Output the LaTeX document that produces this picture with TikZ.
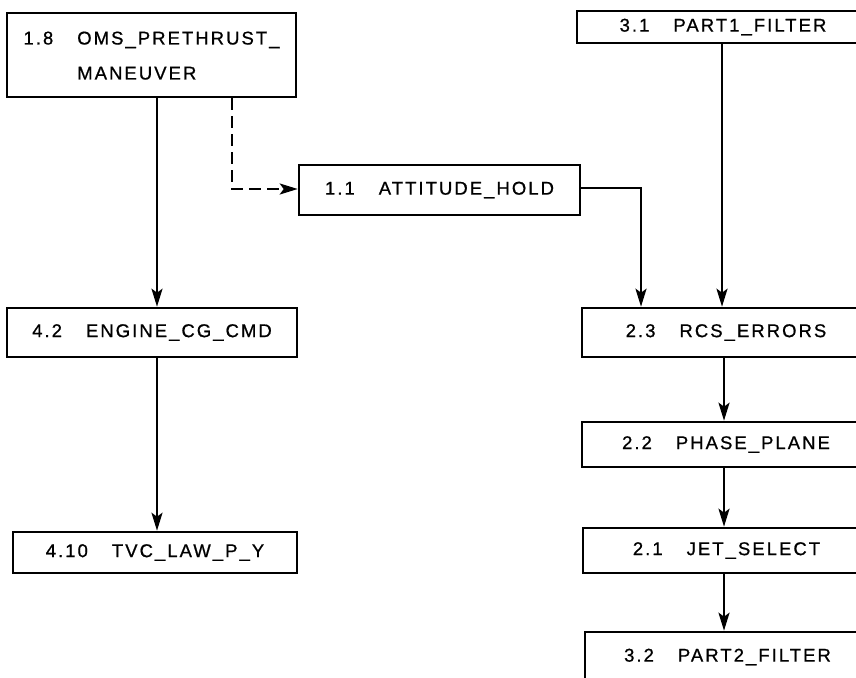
\documentclass[tikz,border=0pt]{standalone}
\usepackage{fontspec}
\setmainfont{Liberation Sans}[LetterSpace=11,FakeBold=0.8]
\usetikzlibrary{arrows.meta}
\tikzset{
  box/.style={draw, line width=2.6pt, rectangle, inner sep=0pt, align=center, font=\fontsize{18.5}{35}\selectfont},
  arr/.style={line width=2.4pt, -{Stealth[length=18pt,width=11pt,inset=4pt]}},
  dashedarr/.style={arr, dash pattern=on 12pt off 6pt},
}
\newcommand{\gapx}{\hspace{24pt}}
\begin{document}
\begin{tikzpicture}[x=1pt,y=-1pt]
\useasboundingbox (0,0) rectangle (856,677);
\clip (0,0) rectangle (856,677);
% left column
\node[box, minimum width=289pt, minimum height=84pt] (n18) at (151.5,55)
  {\begin{tabular}{@{}l@{\gapx}l@{}}1.8 & OMS\_PRETHRUST\_\\ & MANEUVER\end{tabular}};
\node[box, minimum width=290pt, minimum height=49pt] (n42) at (152,332.5) {4.2\gapx ENGINE\_CG\_CMD};
\node[box, minimum width=284pt, minimum height=41pt] (n410) at (155,552.5) {4.10\gapx TVC\_LAW\_P\_Y};
% middle
\node[box, minimum width=281pt, minimum height=50pt] (n11) at (439.5,190) {1.1\gapx ATTITUDE\_HOLD};
% right column
\node[box, minimum width=292pt, minimum height=32pt] (n31) at (723,27) {3.1\gapx PART1\_FILTER};
\node[box, minimum width=288pt, minimum height=49pt] (n23) at (726,332.5) {2.3\gapx RCS\_ERRORS};
\node[box, minimum width=288pt, minimum height=45pt] (n22) at (726,444.5) {2.2\gapx PHASE\_PLANE};
\node[box, minimum width=287pt, minimum height=45pt] (n21) at (726.5,550.5) {2.1\gapx JET\_SELECT};
\node[box, minimum width=285pt, minimum height=50pt] (n32) at (727.5,657) {3.2\gapx PART2\_FILTER};
% connector columns
\coordinate (cA) at (157,0);
\coordinate (cB) at (232,0);
\coordinate (cC) at (641,0);
\coordinate (cD) at (722,0);
\coordinate (cE) at (724,0);
\coordinate (cBend) at (232,189);
\coordinate (cCbend) at (641,188);
% connectors
\draw[arr] (cA |- n18.south) -- (cA |- n42.north);
\draw[arr] (cA |- n42.south) -- (cA |- n410.north);
\draw[dashedarr] (cB |- n18.south) -- (cBend) -- (n11.west |- cBend);
\draw[arr] (n11.east |- cCbend) -- (cCbend) -- (cC |- n23.north);
\draw[arr] (cD |- n31.south) -- (cD |- n23.north);
\draw[arr] (cE |- n23.south) -- (cE |- n22.north);
\draw[arr] (cE |- n22.south) -- (cE |- n21.north);
\draw[arr] (cE |- n21.south) -- (cE |- n32.north);
\end{tikzpicture}
\end{document}
